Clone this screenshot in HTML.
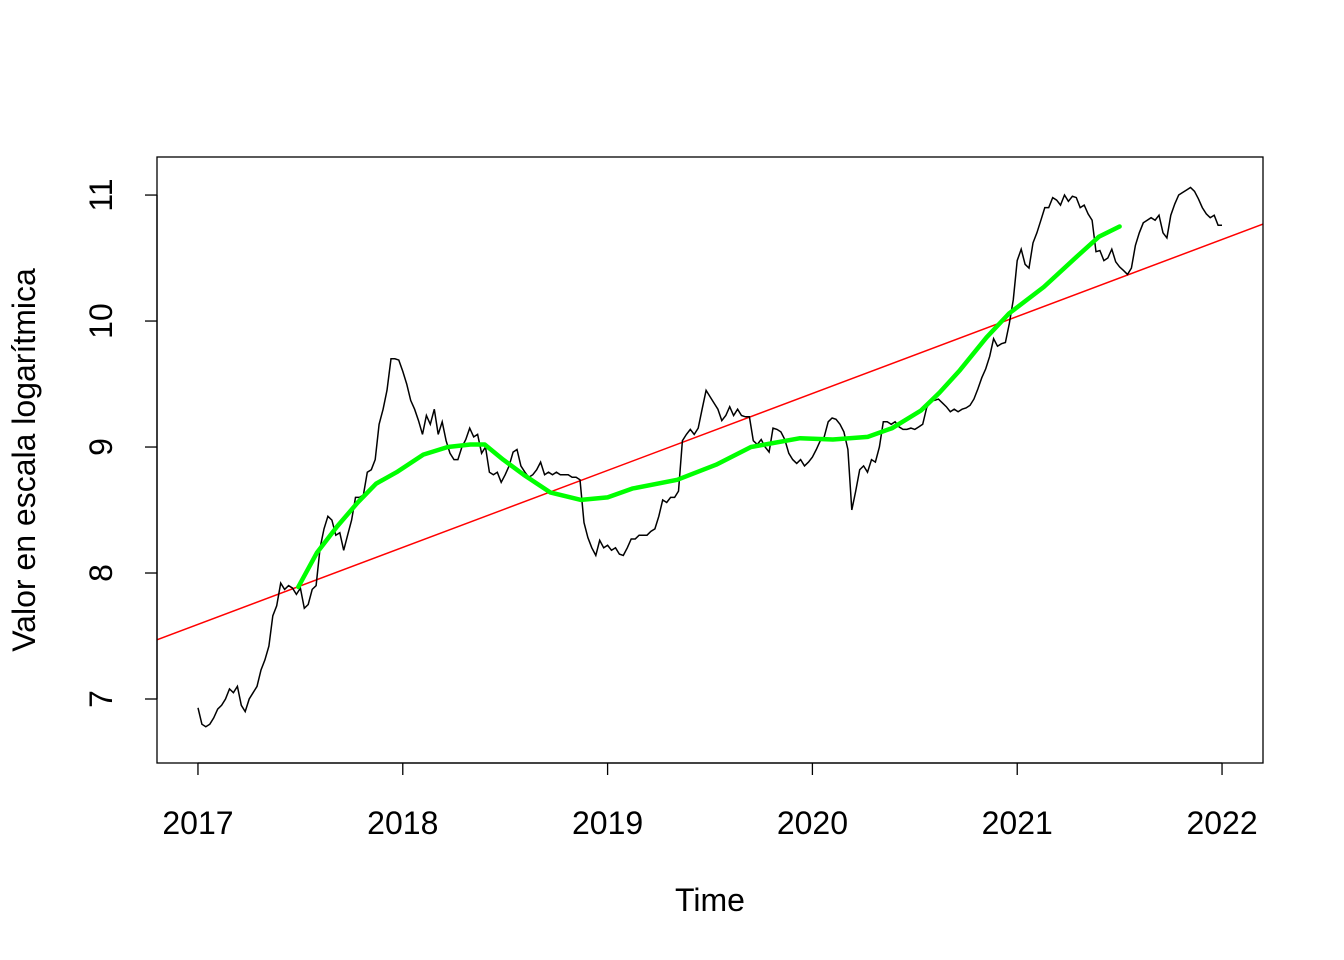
<!DOCTYPE html>
<html><head><meta charset="utf-8"><style>
html,body{margin:0;padding:0;background:#fff}
svg{display:block;font-family:"Liberation Sans",Arial,sans-serif}
</style></head><body>
<svg id="chart" width="1344" height="960" viewBox="0 0 1344 960"></svg>
<script>
const xTicks=[2017,2018,2019,2020,2021,2022];
const yTicks=[7,8,9,10,11];
const seriesStart=2017;
const seriesFreq=52;
const priceValues=[6.93,6.80,6.78,6.80,6.85,6.92,6.95,7.00,7.08,7.05,7.10,6.95,6.90,7.00,7.05,7.10,7.23,7.31,7.42,7.66,7.74,7.92,7.87,7.90,7.88,7.83,7.88,7.72,7.75,7.87,7.90,8.20,8.35,8.45,8.42,8.30,8.32,8.18,8.30,8.42,8.60,8.60,8.62,8.80,8.82,8.90,9.18,9.30,9.45,9.70,9.70,9.69,9.60,9.50,9.37,9.30,9.21,9.10,9.25,9.18,9.30,9.10,9.20,9.05,8.95,8.90,8.90,9.00,9.06,9.15,9.08,9.10,8.95,9.00,8.80,8.78,8.80,8.72,8.78,8.85,8.96,8.98,8.85,8.80,8.76,8.78,8.82,8.88,8.78,8.80,8.78,8.80,8.78,8.78,8.78,8.76,8.76,8.74,8.40,8.28,8.20,8.14,8.26,8.20,8.22,8.18,8.20,8.15,8.14,8.20,8.27,8.27,8.30,8.30,8.30,8.33,8.35,8.45,8.58,8.56,8.60,8.60,8.65,9.05,9.10,9.14,9.10,9.15,9.30,9.45,9.40,9.35,9.30,9.21,9.25,9.32,9.25,9.30,9.25,9.24,9.24,9.05,9.02,9.06,9.00,8.96,9.15,9.14,9.12,9.06,8.95,8.90,8.87,8.90,8.85,8.88,8.92,8.98,9.05,9.08,9.20,9.23,9.22,9.18,9.12,8.98,8.50,8.65,8.82,8.85,8.80,8.90,8.88,9.00,9.20,9.20,9.18,9.20,9.16,9.14,9.14,9.15,9.14,9.16,9.18,9.31,9.37,9.37,9.38,9.35,9.32,9.28,9.30,9.28,9.30,9.31,9.33,9.38,9.46,9.55,9.62,9.72,9.86,9.80,9.82,9.83,9.98,10.17,10.48,10.57,10.45,10.42,10.62,10.70,10.80,10.90,10.90,10.98,10.96,10.92,11.00,10.95,10.99,10.98,10.90,10.92,10.85,10.80,10.55,10.56,10.48,10.50,10.57,10.47,10.43,10.40,10.37,10.42,10.60,10.70,10.78,10.80,10.82,10.80,10.84,10.70,10.66,10.84,10.93,11.00,11.02,11.04,11.06,11.03,10.97,10.90,10.85,10.82,10.84,10.76,10.76];
const smoothYears=[2017.49,2017.58,2017.68,2017.78,2017.87,2017.97,2018.10,2018.22,2018.33,2018.40,2018.49,2018.59,2018.72,2018.87,2019.00,2019.12,2019.34,2019.53,2019.70,2019.94,2020.10,2020.27,2020.39,2020.53,2020.62,2020.72,2020.85,2020.96,2021.13,2021.29,2021.40,2021.50];
const smoothValues=[7.89,8.16,8.37,8.56,8.71,8.80,8.94,9.00,9.02,9.02,8.90,8.78,8.64,8.58,8.60,8.67,8.74,8.86,9.00,9.07,9.06,9.08,9.15,9.29,9.43,9.61,9.87,10.06,10.27,10.51,10.67,10.75];
const trendIntercept=7.47, trendSlope=0.611, trendOrigin=2016.8;

const L=157,R=1263,T=157,B=763;
const xMin=2016.8,xMax=2022.2,yMin=6.492,yMax=11.302;
const sx=v=>L+(v-xMin)/(xMax-xMin)*(R-L);
const sy=v=>B-(v-yMin)/(yMax-yMin)*(B-T);
const svg=document.getElementById('chart');
const NS='http://www.w3.org/2000/svg';
function mk(tag,attrs,parent){const e=document.createElementNS(NS,tag);for(const k in attrs)e.setAttribute(k,attrs[k]);(parent||svg).appendChild(e);return e;}

const clip=mk('clipPath',{id:'pc'});mk('rect',{x:L,y:T,width:R-L,height:B-T},clip);

const trend=mk('line',{x1:sx(xMin),y1:sy(trendIntercept+trendSlope*(xMin-trendOrigin)),x2:sx(xMax),y2:sy(trendIntercept+trendSlope*(xMax-trendOrigin)),stroke:'#ff0000','stroke-width':1.5,'clip-path':'url(#pc)'});



const pts=priceValues.map((v,i)=>sx(seriesStart+i/seriesFreq).toFixed(1)+','+sy(v).toFixed(1)).join(' ');
const price=mk('polyline',{points:pts,fill:'none',stroke:'#000','stroke-width':1.5});



const sp=smoothYears.map((t,i)=>sx(t).toFixed(1)+','+sy(smoothValues[i]).toFixed(1)).join(' ');
const sm=mk('polyline',{points:sp,fill:'none',stroke:'#00ff00','stroke-width':4.5,'stroke-linejoin':'round','stroke-linecap':'round'});



const box=mk('rect',{x:L,y:T,width:R-L,height:B-T,fill:'none',stroke:'#000','stroke-width':1.3});



const xa=mk('g',{});


mk('line',{x1:sx(xTicks[0]),x2:sx(xTicks[xTicks.length-1]),y1:B,y2:B,stroke:'#000','stroke-width':1.3},xa);
xTicks.forEach(t=>{
  mk('line',{x1:sx(t),x2:sx(t),y1:B,y2:B+12,stroke:'#000','stroke-width':1.3},xa);
  const tx=mk('text',{x:sx(t),y:834,'text-anchor':'middle','font-size':32},xa);
  tx.textContent=t;
  
  
});
const ya=mk('g',{});


mk('line',{x1:L,x2:L,y1:sy(yTicks[0]),y2:sy(yTicks[yTicks.length-1]),stroke:'#000','stroke-width':1.3},ya);
yTicks.forEach(v=>{
  mk('line',{x1:L-12,x2:L,y1:sy(v),y2:sy(v),stroke:'#000','stroke-width':1.3},ya);
  const tx=mk('text',{x:0,y:0,'text-anchor':'middle','font-size':32,transform:`translate(112,${sy(v)}) rotate(-90)`},ya);
  tx.textContent=v;
  
  
});
const xt=mk('text',{x:710,y:911,'text-anchor':'middle','font-size':32});
xt.textContent='Time';


const yt=mk('text',{x:0,y:0,'text-anchor':'middle','font-size':32,transform:'translate(35,460) rotate(-90)'});
yt.textContent='Valor en escala logarítmica';


</script>
</body></html>
